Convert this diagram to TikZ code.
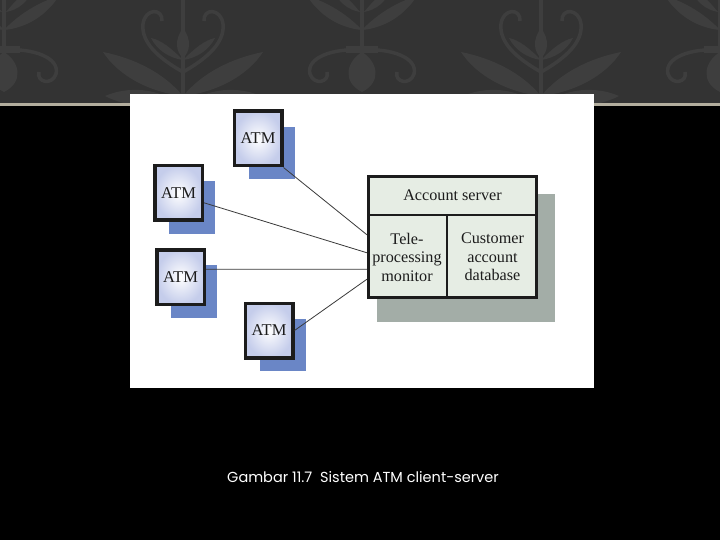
\documentclass[tikz,border=0pt]{standalone}
\usepackage{fontspec}
\setmainfont{Liberation Serif}
\newfontfamily\capfont{Poppins}
\definecolor{band}{HTML}{333333}
\definecolor{bandleaf}{HTML}{3E3E3E}
\definecolor{bandrule}{HTML}{B3AE9E}
\definecolor{ink}{HTML}{1C1C1C}
\definecolor{atmedge}{HTML}{C5CDEB}
\definecolor{atmshade}{HTML}{6A86C6}
\definecolor{srvfill}{HTML}{E6EDE4}
\definecolor{srvshade}{HTML}{A3ADA7}
\definecolor{wire}{HTML}{3A3A3A}
\usetikzlibrary{positioning, shadows, calc}
\tikzset{
  atm/.style={draw=ink, line width=3.5pt, inner color=white, outer color=atmedge,
              minimum width=47.5pt, minimum height=54.5pt, text=ink,
              font=\fontsize{16.5}{18}\selectfont,
              general shadow={fill=atmshade, shadow xshift=14pt, shadow yshift=-15pt, shadow scale=0.97}},
  srv/.style={draw=ink, line width=3.2pt, fill=srvfill, minimum width=168pt, minimum height=121pt,
              general shadow={fill=srvshade, shadow xshift=12.5pt, shadow yshift=-20pt, shadow scale=1.06}},
  cell/.style={align=center, text=ink, inner sep=0pt, outer sep=0pt,
               font=\fontsize{16.2}{18.5}\selectfont},
  divider/.style={draw=ink, line width=2.5pt},
  wire/.style={draw=wire, line width=0.8pt},
  ornament/.style={fill=bandleaf, draw=bandleaf, line width=3.5pt},
}
% damask motifs of the title band
\newcommand{\damaskA}[1]{%
  \begin{scope}[shift={(#1,0)}, ornament]
    \draw (0,0) -- (0,100);
    \fill (0,28) .. controls (9,40) and (7,52) .. (0,58) .. controls (-7,52) and (-9,40) .. (0,28);
    \foreach \s in {1,-1} {
      \begin{scope}[xscale=\s]
        \draw (0,72) .. controls (-25,58) and (-42,42) .. (-40,24) .. controls (-38,8) and (-20,8) .. (-21,21);
        \fill (0,96) .. controls (-20,72) and (-50,58) .. (-80,52) .. controls (-65,75) and (-35,92) .. (0,96);
        \fill (-4,104) .. controls (-25,88) and (-55,86) .. (-78,96) .. controls (-55,108) and (-25,108) .. (-4,104);
        \fill (0,60) .. controls (-12,48) and (-22,40) .. (-32,38) .. controls (-26,50) and (-14,58) .. (0,60);
      \end{scope}}
  \end{scope}}
\newcommand{\damaskB}[1]{%
  \begin{scope}[shift={(#1,0)}, ornament]
    \draw (0,0) -- (0,50);
    \fill (0,92) .. controls (-20,82) and (-16,62) .. (0,52) .. controls (16,62) and (20,82) .. (0,92);
    \fill (-16,46) rectangle (16,53);
    \foreach \s in {1,-1} {
      \begin{scope}[xscale=\s]
        \draw (0,50) .. controls (-30,48) and (-56,58) .. (-52,74) .. controls (-48,86) and (-32,82) .. (-35,72);
        \fill (0,30) .. controls (-15,14) and (-35,2) .. (-55,-4) .. controls (-42,16) and (-22,28) .. (0,30);
        \fill (-2,12) .. controls (-12,0) and (-20,-8) .. (-30,-12) .. controls (-24,2) and (-14,10) .. (-2,12);
      \end{scope}}
  \end{scope}}

\begin{document}
\begin{tikzpicture}[x=1pt, y=-1pt]
  % slide background
  \fill[black] (0,0) rectangle (720,540);
  \fill[band] (0,0) rectangle (720,103.5);
  \begin{scope}
    \clip (0,0) rectangle (720,103.5);
    \foreach \dx in {-175,183,541,899} {\damaskA{\dx}}
    \foreach \dx in {4,362,720} {\damaskB{\dx}}
  \end{scope}
  \fill[bandrule] (0,103) rectangle (720,106);
  \fill[white] (130,94) rectangle (594,388);

  % figure
  \node[atm] (atm1) at (258,138.5) {ATM};
  \node[atm] (atm2) at (178.5,193) {ATM};
  \node[atm] (atm3) at (180.5,277) {ATM};
  \node[atm] (atm4) at (269,330.5) {ATM};

  \node[srv] (srv) at (452.5,237) {};
  \node[cell, minimum width=171pt, minimum height=40pt] (ttl) at (452.5,195) {Account server};
  \node[cell, minimum width=80pt, minimum height=84pt] (tpm) at (407,257) {Tele-\\processing\\monitor};
  \node[cell, minimum width=91pt, minimum height=84pt] (cad) at (492.5,257) {Customer\\account\\database};
  \draw[divider] (ttl.south west) -- (ttl.south east);
  \draw[divider] (tpm.north east) -- (tpm.south east);

  \draw[wire] (atm1.south east) -- (tpm.151);
  \draw[wire] (atm2.-21) -- (tpm.174);
  \draw[wire] (atm3.17) -- (tpm.197);
  \draw[wire] (atm4.east) -- (tpm.209);

  \node[font=\capfont\fontsize{14.5}{17}\selectfont, text=white] (cap) at (363,477) {Gambar 11.7\ \ Sistem ATM client-server};
\end{tikzpicture}
\end{document}
